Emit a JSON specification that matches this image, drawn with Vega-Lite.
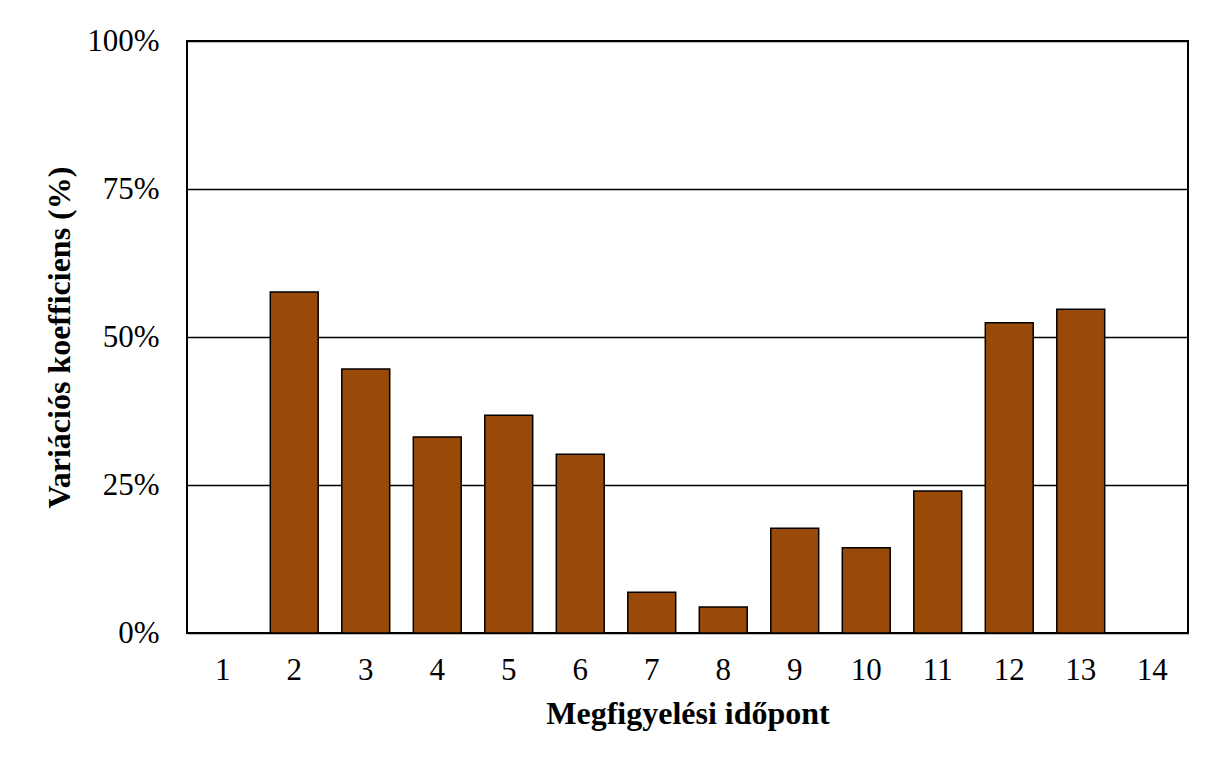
{
  "$schema": "https://vega.github.io/schema/vega-lite/v6.json",
  "width": 1001,
  "height": 592,
  "autosize": {"type": "none"},
  "padding": {"left": 187, "top": 41, "right": 28, "bottom": 125},
  "background": "white",
  "data": {"values": [
    {"t": "1", "v": 0},
    {"t": "2", "v": 0.576},
    {"t": "3", "v": 0.446},
    {"t": "4", "v": 0.331},
    {"t": "5", "v": 0.368},
    {"t": "6", "v": 0.302},
    {"t": "7", "v": 0.069},
    {"t": "8", "v": 0.044},
    {"t": "9", "v": 0.177},
    {"t": "10", "v": 0.144},
    {"t": "11", "v": 0.240},
    {"t": "12", "v": 0.524},
    {"t": "13", "v": 0.547},
    {"t": "14", "v": 0}
  ]},
  "mark": {"type": "bar", "fill": "#994a08", "stroke": "black", "strokeWidth": 1.5},
  "transform": [{"filter": "datum.v > 0"}],
  "encoding": {
    "x": {
      "field": "t", "type": "ordinal",
      "sort": ["1","2","3","4","5","6","7","8","9","10","11","12","13","14"],
      "scale": {"domain": ["1","2","3","4","5","6","7","8","9","10","11","12","13","14"], "paddingInner": 0.33, "paddingOuter": 0.165},
      "axis": {
        "title": "Megfigyelési időpont",
        "titleFont": "Liberation Serif", "titleFontSize": 32, "titleFontWeight": "bold", "titleColor": "black",
        "titlePadding": 13,
        "labelFont": "Liberation Serif", "labelFontSize": 31, "labelColor": "black", "labelAngle": 0,
        "labelPadding": 22,
        "ticks": false, "domain": false, "grid": false
      }
    },
    "y": {
      "field": "v", "type": "quantitative",
      "scale": {"domain": [0, 1], "nice": false},
      "axis": {
        "title": "Variációs koefficiens (%)",
        "titleFont": "Liberation Serif", "titleFontSize": 32, "titleFontWeight": "bold", "titleColor": "black",
        "titlePadding": 10,
        "values": [0, 0.25, 0.5, 0.75, 1],
        "format": ".0%",
        "labelFont": "Liberation Serif", "labelFontSize": 31, "labelColor": "black",
        "labelPadding": 28,
        "ticks": false, "domain": false,
        "grid": true, "gridColor": "black", "gridWidth": 1.5, "gridOpacity": 1
      }
    }
  },
  "config": {
    "view": {"stroke": "black", "strokeWidth": 2}
  }
}
